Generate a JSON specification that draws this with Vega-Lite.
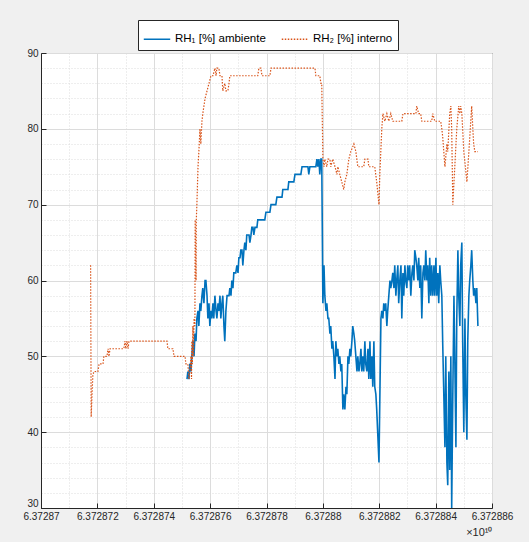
{
  "$schema": "https://vega.github.io/schema/vega-lite/v6.json",
  "autosize": "none",
  "width": 451,
  "height": 455,
  "padding": {"left": 41, "top": 53, "right": 37, "bottom": 34},
  "background": "#f0f0f0",
  "config": {
    "view": {"fill": "white", "stroke": "#262626", "strokeWidth": 1},
    "font": "Liberation Sans",
    "axis": {
      "domainColor": "#262626",
      "tickColor": "#262626",
      "labelColor": "#262626",
      "labelFont": "Liberation Sans",
      "labelFontSize": 10,
      "titleFont": "Liberation Sans",
      "titleColor": "#262626",
      "titleFontWeight": "normal",
      "gridColor": "#dcdcdc",
      "gridWidth": 1,
      "tickSize": -5
    }
  },
  "datasets": {
    "rh1": [
      {"x":63728751800,"y":47},{"x":63728752100,"y":48},{"x":63728752500,"y":47},{"x":63728752800,"y":49},{"x":63728753200,"y":48},{"x":63728753500,"y":50},{"x":63728753900,"y":52},{"x":63728754300,"y":50},{"x":63728754600,"y":53},{"x":63728755000,"y":52},{"x":63728755300,"y":55},{"x":63728755700,"y":56},{"x":63728756000,"y":54},{"x":63728756400,"y":57},{"x":63728756700,"y":56},{"x":63728757100,"y":58},{"x":63728757400,"y":59},{"x":63728757800,"y":57},{"x":63728758200,"y":60},{"x":63728758500,"y":60},{"x":63728758900,"y":58},{"x":63728759200,"y":55},{"x":63728759600,"y":57},{"x":63728759900,"y":54},{"x":63728760300,"y":56},{"x":63728760600,"y":55},{"x":63728761000,"y":57},{"x":63728761300,"y":55},{"x":63728761700,"y":58},{"x":63728762100,"y":56},{"x":63728762400,"y":55},{"x":63728762800,"y":57},{"x":63728763100,"y":56},{"x":63728763500,"y":58},{"x":63728763800,"y":55},{"x":63728764200,"y":57},{"x":63728764500,"y":58},{"x":63728764900,"y":54},{"x":63728765200,"y":52},{"x":63728765600,"y":56},{"x":63728766000,"y":58},{"x":63728766700,"y":58},{"x":63728767000,"y":59},{"x":63728767400,"y":58},{"x":63728767700,"y":60},{"x":63728768100,"y":59},{"x":63728768400,"y":61},{"x":63728769100,"y":61},{"x":63728769500,"y":62},{"x":63728769900,"y":61},{"x":63728770200,"y":63},{"x":63728770600,"y":63},{"x":63728770900,"y":64},{"x":63728771300,"y":64},{"x":63728771600,"y":62},{"x":63728772000,"y":64},{"x":63728772300,"y":65},{"x":63728772700,"y":64},{"x":63728773000,"y":66},{"x":63728773800,"y":66},{"x":63728774100,"y":65},{"x":63728774500,"y":66},{"x":63728774800,"y":67},{"x":63728775200,"y":67},{"x":63728775500,"y":66},{"x":63728775900,"y":67},{"x":63728776600,"y":67},{"x":63728776900,"y":68},{"x":63728779400,"y":68},{"x":63728779800,"y":69},{"x":63728781200,"y":69},{"x":63728781600,"y":70},{"x":63728783300,"y":70},{"x":63728783700,"y":71},{"x":63728785500,"y":71},{"x":63728785800,"y":72},{"x":63728787600,"y":72},{"x":63728787900,"y":73},{"x":63728789700,"y":73},{"x":63728790100,"y":74},{"x":63728792200,"y":74},{"x":63728792600,"y":75},{"x":63728794700,"y":75},{"x":63728795000,"y":74},{"x":63728795400,"y":75},{"x":63728797500,"y":75},{"x":63728797900,"y":76},{"x":63728798200,"y":75},{"x":63728798600,"y":76},{"x":63728798900,"y":74},{"x":63728799300,"y":76},{"x":63728799600,"y":76},{"x":63728800000,"y":57},{"x":63728800400,"y":62},{"x":63728800700,"y":58},{"x":63728801100,"y":56},{"x":63728801400,"y":57},{"x":63728801800,"y":55},{"x":63728802100,"y":55},{"x":63728802500,"y":53},{"x":63728802800,"y":54},{"x":63728803200,"y":51},{"x":63728803500,"y":52},{"x":63728803900,"y":50},{"x":63728804300,"y":47},{"x":63728804600,"y":52},{"x":63728805000,"y":50},{"x":63728805300,"y":51},{"x":63728805700,"y":49},{"x":63728806000,"y":50},{"x":63728806400,"y":48},{"x":63728806700,"y":49},{"x":63728807100,"y":43},{"x":63728807400,"y":45},{"x":63728807800,"y":43},{"x":63728808200,"y":46},{"x":63728808500,"y":45},{"x":63728808900,"y":50},{"x":63728809200,"y":49},{"x":63728809600,"y":51},{"x":63728809900,"y":50},{"x":63728810300,"y":52},{"x":63728810600,"y":54},{"x":63728811000,"y":53},{"x":63728811300,"y":52},{"x":63728811700,"y":50},{"x":63728812100,"y":48},{"x":63728812400,"y":50},{"x":63728812800,"y":48},{"x":63728813100,"y":49},{"x":63728813500,"y":51},{"x":63728813800,"y":48},{"x":63728814200,"y":50},{"x":63728814500,"y":48},{"x":63728814900,"y":52},{"x":63728815200,"y":49},{"x":63728815600,"y":48},{"x":63728816000,"y":51},{"x":63728816300,"y":47},{"x":63728816700,"y":52},{"x":63728817000,"y":47},{"x":63728817400,"y":50},{"x":63728817700,"y":46},{"x":63728818100,"y":52},{"x":63728818400,"y":46},{"x":63728818800,"y":45},{"x":63728819100,"y":43},{"x":63728819900,"y":36},{"x":63728820600,"y":55},{"x":63728820900,"y":56},{"x":63728821300,"y":55},{"x":63728821600,"y":57},{"x":63728822000,"y":56},{"x":63728822300,"y":57},{"x":63728822700,"y":54},{"x":63728823000,"y":56},{"x":63728823400,"y":58},{"x":63728823800,"y":60},{"x":63728824100,"y":59},{"x":63728824500,"y":60},{"x":63728824800,"y":61},{"x":63728825200,"y":59},{"x":63728825500,"y":62},{"x":63728825900,"y":58},{"x":63728826200,"y":60},{"x":63728826600,"y":62},{"x":63728826900,"y":57},{"x":63728827300,"y":60},{"x":63728827700,"y":62},{"x":63728828000,"y":55},{"x":63728828400,"y":61},{"x":63728828700,"y":58},{"x":63728829100,"y":62},{"x":63728829400,"y":60},{"x":63728829800,"y":59},{"x":63728830100,"y":62},{"x":63728830500,"y":60},{"x":63728830800,"y":62},{"x":63728831200,"y":58},{"x":63728831600,"y":61},{"x":63728831900,"y":62},{"x":63728832300,"y":60},{"x":63728832600,"y":64},{"x":63728833000,"y":63},{"x":63728833300,"y":62},{"x":63728833700,"y":60},{"x":63728834000,"y":63},{"x":63728834400,"y":59},{"x":63728834700,"y":62},{"x":63728835100,"y":55},{"x":63728835500,"y":61},{"x":63728835800,"y":62},{"x":63728836200,"y":60},{"x":63728836500,"y":64},{"x":63728836900,"y":60},{"x":63728837200,"y":62},{"x":63728837600,"y":57},{"x":63728837900,"y":63},{"x":63728838300,"y":58},{"x":63728838600,"y":62},{"x":63728839000,"y":58},{"x":63728839400,"y":62},{"x":63728839700,"y":58},{"x":63728840100,"y":63},{"x":63728840400,"y":58},{"x":63728840800,"y":61},{"x":63728841100,"y":57},{"x":63728841500,"y":62},{"x":63728841800,"y":60},{"x":63728842200,"y":58},{"x":63728842500,"y":52},{"x":63728842900,"y":45},{"x":63728843300,"y":38},{"x":63728843600,"y":50},{"x":63728844000,"y":36},{"x":63728844300,"y":33},{"x":63728844700,"y":48},{"x":63728845000,"y":35},{"x":63728845400,"y":50},{"x":63728845700,"y":30},{"x":63728846100,"y":45},{"x":63728846500,"y":58},{"x":63728846800,"y":50},{"x":63728847200,"y":38},{"x":63728847500,"y":55},{"x":63728847900,"y":64},{"x":63728848200,"y":58},{"x":63728848600,"y":54},{"x":63728848900,"y":62},{"x":63728849300,"y":65},{"x":63728849600,"y":52},{"x":63728850000,"y":40},{"x":63728850400,"y":55},{"x":63728850700,"y":45},{"x":63728851100,"y":39},{"x":63728851400,"y":52},{"x":63728851800,"y":58},{"x":63728852100,"y":60},{"x":63728852500,"y":62},{"x":63728852800,"y":64},{"x":63728853200,"y":60},{"x":63728853500,"y":58},{"x":63728853900,"y":59},{"x":63728854300,"y":57},{"x":63728854600,"y":59},{"x":63728855000,"y":54}
    ],
    "rh2": [
      {"x":63728717600,"y":62},{"x":63728717800,"y":42},{"x":63728718100,"y":45},{"x":63728718400,"y":47.5},{"x":63728718800,"y":48},{"x":63728720200,"y":48},{"x":63728720600,"y":49},{"x":63728722000,"y":49},{"x":63728722300,"y":50},{"x":63728723400,"y":50},{"x":63728723800,"y":51},{"x":63728724100,"y":50},{"x":63728724500,"y":51},{"x":63728729400,"y":51},{"x":63728729800,"y":52},{"x":63728730100,"y":51},{"x":63728730500,"y":52},{"x":63728730900,"y":51},{"x":63728731200,"y":52},{"x":63728744700,"y":52},{"x":63728745000,"y":51},{"x":63728746800,"y":51},{"x":63728747200,"y":50},{"x":63728751100,"y":50},{"x":63728751400,"y":49},{"x":63728752100,"y":49},{"x":63728752500,"y":47},{"x":63728752800,"y":48},{"x":63728753200,"y":50},{"x":63728753400,"y":47},{"x":63728753500,"y":52},{"x":63728753700,"y":49},{"x":63728753900,"y":54},{"x":63728754100,"y":50},{"x":63728754300,"y":55},{"x":63728754600,"y":54},{"x":63728754700,"y":68},{"x":63728755000,"y":60},{"x":63728755100,"y":68},{"x":63728755300,"y":70},{"x":63728755700,"y":75},{"x":63728756000,"y":77},{"x":63728756400,"y":80},{"x":63728756700,"y":78},{"x":63728757100,"y":81},{"x":63728757400,"y":82},{"x":63728758200,"y":84},{"x":63728758900,"y":85},{"x":63728759600,"y":86},{"x":63728760300,"y":87},{"x":63728761000,"y":87},{"x":63728761700,"y":88},{"x":63728762100,"y":87},{"x":63728762400,"y":88},{"x":63728763100,"y":88},{"x":63728763500,"y":87},{"x":63728764200,"y":87},{"x":63728764500,"y":85},{"x":63728765200,"y":86},{"x":63728765600,"y":85},{"x":63728766300,"y":85},{"x":63728766700,"y":86},{"x":63728767000,"y":87},{"x":63728776900,"y":87},{"x":63728777300,"y":88},{"x":63728778000,"y":88},{"x":63728778400,"y":87},{"x":63728781200,"y":87},{"x":63728781600,"y":88},{"x":63728797200,"y":88},{"x":63728797500,"y":87},{"x":63728798900,"y":87},{"x":63728799300,"y":86},{"x":63728799600,"y":86},{"x":63728800000,"y":76},{"x":63728800400,"y":75},{"x":63728800700,"y":76},{"x":63728801400,"y":75},{"x":63728801800,"y":76},{"x":63728802500,"y":76},{"x":63728802800,"y":75},{"x":63728803500,"y":76},{"x":63728804300,"y":75},{"x":63728805000,"y":74},{"x":63728805300,"y":75},{"x":63728806000,"y":74},{"x":63728806700,"y":73},{"x":63728807400,"y":72},{"x":63728807800,"y":73},{"x":63728808500,"y":74},{"x":63728809200,"y":76},{"x":63728809900,"y":77},{"x":63728811000,"y":78},{"x":63728811700,"y":77},{"x":63728812400,"y":75},{"x":63728814500,"y":75},{"x":63728814900,"y":76},{"x":63728816000,"y":76},{"x":63728816300,"y":75},{"x":63728818400,"y":75},{"x":63728819100,"y":73},{"x":63728819900,"y":70},{"x":63728820200,"y":74},{"x":63728820900,"y":80},{"x":63728821300,"y":82},{"x":63728822000,"y":81},{"x":63728822700,"y":82},{"x":63728823400,"y":81},{"x":63728824100,"y":82},{"x":63728824800,"y":81},{"x":63728828000,"y":81},{"x":63728828400,"y":82},{"x":63728833000,"y":82},{"x":63728833300,"y":83},{"x":63728834000,"y":82},{"x":63728834700,"y":82},{"x":63728835100,"y":81},{"x":63728838600,"y":81},{"x":63728839000,"y":82},{"x":63728839700,"y":81},{"x":63728841800,"y":81},{"x":63728842200,"y":80},{"x":63728842500,"y":79},{"x":63728843300,"y":75},{"x":63728844000,"y":78},{"x":63728844300,"y":77},{"x":63728845000,"y":82},{"x":63728845400,"y":83},{"x":63728845700,"y":80},{"x":63728846100,"y":70},{"x":63728846800,"y":75},{"x":63728847500,"y":80},{"x":63728848200,"y":83},{"x":63728848600,"y":82},{"x":63728848900,"y":83},{"x":63728849300,"y":82},{"x":63728850000,"y":77},{"x":63728851100,"y":73},{"x":63728851800,"y":77},{"x":63728852800,"y":83},{"x":63728853200,"y":80},{"x":63728853500,"y":78},{"x":63728853900,"y":77},{"x":63728855000,"y":77}
    ]
  },
  "encoding": {
    "x": {
      "field": "x",
      "type": "quantitative",
      "scale": {"domain": [63728700000, 63728860000], "nice": false, "zero": false},
      "axis": {
        "title": "×10¹⁰",
        "titleFontSize": 11,
        "titleAnchor": "end",
        "titlePadding": 5,
        "grid": true,
        "values": [63728700000,63728710000,63728720000,63728730000,63728740000,63728750000,63728760000,63728770000,63728780000,63728790000,63728800000,63728810000,63728820000,63728830000,63728840000,63728850000,63728860000],
        "labelExpr": "datum.value % 20000 == 0 ? format(datum.value / 1e10, '.7~f') : ''",
        "labelPadding": 8,
        "labelFlush": false,
        "labelOverlap": false,
        "gridDash": {"condition": {"test": "datum.value % 20000 != 0", "value": [1, 2]}, "value": []},
        "tickOpacity": {"condition": {"test": "datum.value % 20000 != 0", "value": 0}, "value": 1}
      }
    },
    "y": {
      "field": "y",
      "type": "quantitative",
      "scale": {"domain": [30, 90], "nice": false, "zero": false},
      "axis": {
        "title": null,
        "grid": true,
        "values": [30,32,34,36,38,40,42,44,46,48,50,52,54,56,58,60,62,64,66,68,70,72,74,76,78,80,82,84,86,88,90],
        "labelExpr": "datum.value % 10 == 0 ? datum.label : ''",
        "labelPadding": 8,
        "labelOverlap": false,
        "labelBaseline": {"condition": {"test": "datum.value == 30", "value": "bottom"}, "value": "middle"},
        "gridDash": {"condition": {"test": "datum.value % 10 != 0", "value": [1, 2]}, "value": []},
        "tickOpacity": {"condition": {"test": "datum.value % 10 != 0", "value": 0}, "value": 1}
      }
    }
  },
  "layer": [
    {
      "data": {"name": "rh1"},
      "mark": {"type": "line", "strokeWidth": 1.6, "clip": true},
      "encoding": {
        "color": {
          "datum": "RH₁ [%] ambiente",
          "scale": {"domain": ["RH₁ [%] ambiente", "RH₂ [%] interno"], "range": ["#0072BD", "#D95319"]},
          "legend": {
            "title": null,
            "orient": "none",
            "legendX": 97,
            "legendY": -33,
            "direction": "horizontal",
            "fillColor": "white",
            "strokeColor": "#262626",
            "padding": 5,
            "symbolType": "stroke",
            "symbolSize": 700,
            "symbolStrokeWidth": 1.5,
            "labelFontSize": 11.5,
            "labelFont": "Liberation Sans",
            "labelColor": "#000000",
            "columnPadding": 12
          }
        },
        "strokeDash": {
          "datum": "RH₁ [%] ambiente",
          "scale": {"domain": ["RH₁ [%] ambiente", "RH₂ [%] interno"], "range": [[1, 0], [1.5, 1.5]]},
          "legend": null
        }
      }
    },
    {
      "data": {"name": "rh2"},
      "mark": {"type": "line", "strokeWidth": 1.2, "clip": true},
      "encoding": {
        "color": {"datum": "RH₂ [%] interno"},
        "strokeDash": {"datum": "RH₂ [%] interno"}
      }
    }
  ]
}
